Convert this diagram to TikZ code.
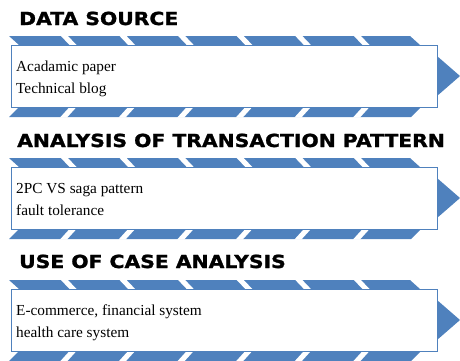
\documentclass[tikz,border=0pt]{standalone}
\usepackage{fontspec}
\setmainfont{Liberation Serif}
\newfontfamily\headfont{DejaVu Sans}[FakeStretch=1.13,FakeBold=1.4]
\usepackage{xcolor}
\definecolor{bandblue}{HTML}{4F81BD}
\tikzstyle{band}=[fill=bandblue]
\tikzstyle{gap}=[fill=white]
\tikzstyle{itembox}=[draw=bandblue,fill=white,line width=1.3pt,anchor=north west,inner sep=0,minimum width=426pt,minimum height=62pt]
\tikzstyle{heading}=[anchor=base west,inner sep=0,font=\headfont\bfseries\fontsize{18}{18}\selectfont]
\tikzstyle{entry}=[anchor=base west,inner sep=0,font=\fontsize{15.3}{15.3}\selectfont]

\begin{document}
\begin{tikzpicture}[x=1pt,y=-1pt]
  \useasboundingbox (0,0) rectangle (460,360);
  \def\P{58.6}
  \foreach \k/\dy in {1/0,2/122,3/244}{
    % striped band above and below
    \fill[band] (9,36+\dy) -- (410,36+\dy) -- (420,45+\dy) -- (19,45+\dy) -- cycle;
    \fill[band] (19,107+\dy) -- (421,107+\dy) -- (411,117+\dy) -- (9,117+\dy) -- cycle;
    \foreach \i in {0,...,5}{
      \fill[gap] (60+\i*\P,35+\dy) -- ++(7,0) -- ++(10,10.5) -- ++(-7,0) -- cycle;
      \fill[gap] (70+\i*\P,106.5+\dy) -- ++(7,0) -- ++(-10,11) -- ++(-7,0) -- cycle;
    }
    % arrow head
    \fill[band] (437,56+\dy) -- (460,76+\dy) -- (437,96+\dy) -- cycle;
    \node[itembox] (box\k) at (11,45+\dy) {};
  }
  \node[heading] (head1) at (19,25) {DATA SOURCE};
  \node[entry] (src1) at (16,71) {Acadamic paper};
  \node[entry] (src2) at (16,93) {Technical blog};
  \node[heading] (head2) at (17,147) {ANALYSIS OF TRANSACTION PATTERN};
  \node[entry] (pat1) at (16,193) {2PC VS saga pattern};
  \node[entry] (pat2) at (16,215) {fault tolerance};
  \node[heading] (head3) at (19,268) {USE OF CASE ANALYSIS};
  \node[entry] (use1) at (16,315) {E-commerce, financial system};
  \node[entry] (use2) at (16,337) {health care system};
\end{tikzpicture}
\end{document}
